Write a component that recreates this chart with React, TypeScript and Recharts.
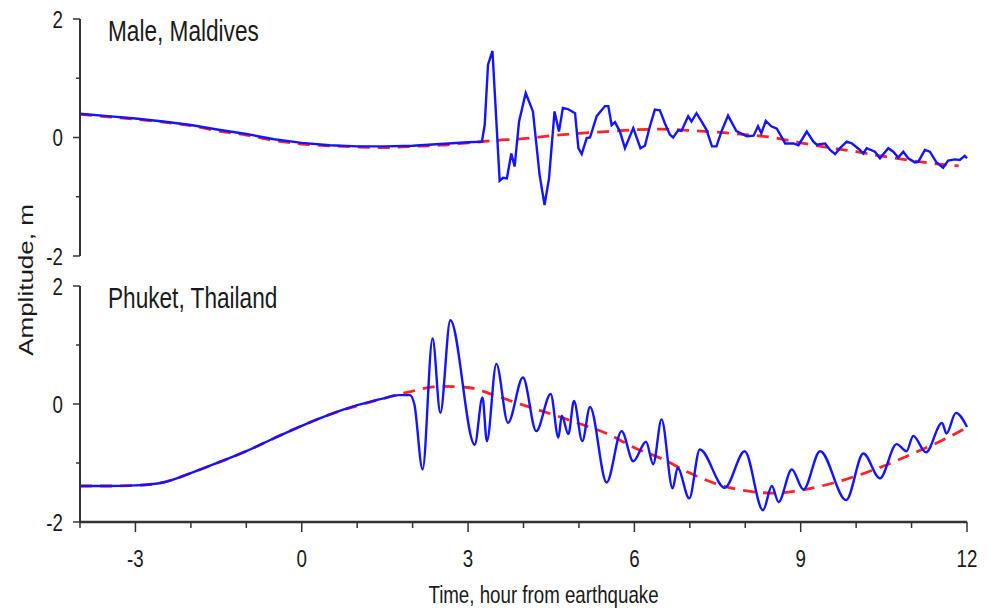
import React from 'react';
import { LineChart, Line, XAxis, YAxis, Label } from 'recharts';

const colors = {
  observed: '#1414ff',
  trend: '#ff2424',
  axis: '#333333',
  text: '#1a1a1a',
};

const FONT = '"Liberation Sans", Arial, Helvetica, sans-serif';
// the source figure is squeezed horizontally, so every text is narrowed
const SQUEEZE = 0.78;

type Pt = { t: number; v: number };
const pts = (rows: number[][]): Pt[] => rows.map(([t, v]) => ({ t, v }));

const xTicks = [-4, -3, -2, -1, 0, 1, 2, 3, 4, 5, 6, 7, 8, 9, 10, 11, 12];
const xLabelled = [-3, 0, 3, 6, 9, 12];
const yTicks = [-2, -1, 0, 1, 2];

// Male, Maldives
const maleTrend = pts([
  [-4, 0.39], [-3.5, 0.35], [-3, 0.31], [-2.5, 0.26], [-2, 0.2], [-1.5, 0.11], [-1, 0.04],
  [-0.5, -0.05], [0, -0.11], [0.5, -0.14], [1, -0.16], [1.5, -0.17], [2, -0.15], [2.5, -0.13],
  [3, -0.09], [3.5, -0.05], [4, -0.02], [4.5, 0.03], [5, 0.07], [5.5, 0.1], [6, 0.13],
  [6.5, 0.14], [7, 0.12], [7.5, 0.09], [8, 0.05], [8.5, 0.0], [9, -0.09], [9.5, -0.17],
  [10, -0.24], [10.5, -0.32], [11, -0.39], [11.5, -0.45], [11.85, -0.48],
]);

const maleObserved = pts([
  [-4, 0.4], [-3.5, 0.36], [-3, 0.32], [-2.5, 0.27], [-2, 0.21], [-1.5, 0.13], [-1, 0.06],
  [-0.5, -0.03], [0, -0.09], [0.5, -0.13], [1, -0.15], [1.5, -0.15], [2, -0.14], [2.5, -0.11],
  [3, -0.08], [3.25, -0.07], [3.3, 0.21], [3.36, 1.23], [3.44, 1.46], [3.57, -0.73], [3.63, -0.68],
  [3.7, -0.69], [3.78, -0.27], [3.84, -0.49], [3.92, 0.27], [4.04, 0.75], [4.17, 0.44],
  [4.29, -0.63], [4.38, -1.14], [4.46, -0.69], [4.56, 0.44], [4.64, 0.1], [4.71, 0.5],
  [4.8, 0.48], [4.93, 0.41], [4.99, -0.18], [5.05, -0.28], [5.14, -0.01], [5.2, 0.0],
  [5.32, 0.36], [5.47, 0.53], [5.53, 0.53], [5.59, 0.21], [5.65, 0.26], [5.74, 0.1],
  [5.83, -0.18], [5.98, 0.16], [6.11, -0.18], [6.19, -0.14], [6.28, 0.19], [6.37, 0.47],
  [6.46, 0.46], [6.55, 0.24], [6.64, 0.05], [6.7, 0.0], [6.79, 0.12], [6.85, 0.11],
  [6.97, 0.36], [7.03, 0.27], [7.12, 0.41], [7.22, 0.26], [7.3, 0.13], [7.4, -0.15],
  [7.48, -0.15], [7.57, 0.1], [7.69, 0.37], [7.84, 0.11], [8.03, 0.02], [8.15, 0.03],
  [8.23, 0.19], [8.29, 0.07], [8.37, 0.28], [8.47, 0.19], [8.57, 0.15], [8.72, -0.1],
  [8.87, -0.1], [8.96, -0.13], [9.11, 0.1], [9.23, -0.07], [9.29, -0.12], [9.44, -0.1],
  [9.53, -0.21], [9.62, -0.28], [9.71, -0.18], [9.83, -0.07], [9.92, -0.1], [10.07, -0.21],
  [10.13, -0.27], [10.19, -0.18], [10.34, -0.24], [10.43, -0.35], [10.58, -0.18],
  [10.67, -0.24], [10.76, -0.34], [10.85, -0.24], [10.94, -0.35], [11.06, -0.42],
  [11.12, -0.41], [11.24, -0.21], [11.33, -0.24], [11.45, -0.42], [11.57, -0.51],
  [11.66, -0.39], [11.78, -0.37], [11.87, -0.38], [11.96, -0.31], [12.0, -0.35],
]);

// Phuket, Thailand
const phuketTrend = pts([
  [-4, -1.39], [-3.5, -1.39], [-3, -1.38], [-2.5, -1.33], [-2, -1.17], [-1.5, -0.99],
  [-1, -0.8], [-0.5, -0.58], [0, -0.37], [0.5, -0.18], [1, -0.03], [1.5, 0.1], [2, 0.22],
  [2.5, 0.3], [3, 0.28], [3.5, 0.14], [4, -0.02], [4.5, -0.17], [5, -0.33], [5.5, -0.5],
  [6, -0.74], [6.5, -0.93], [7, -1.17], [7.5, -1.36], [8, -1.47], [8.5, -1.51], [9, -1.46],
  [9.5, -1.36], [10, -1.22], [10.5, -1.05], [11, -0.85], [11.5, -0.64], [12, -0.4],
]);

const phuketObserved = pts([
  [-4, -1.39], [-3.5, -1.39], [-3, -1.38], [-2.5, -1.33], [-2, -1.17], [-1.5, -0.99],
  [-1, -0.8], [-0.5, -0.58], [0, -0.37], [0.5, -0.18], [1, -0.02], [1.5, 0.1], [1.75, 0.15],
  [1.95, 0.15], [2.03, 0.0], [2.18, -1.11], [2.36, 1.11], [2.5, -0.15], [2.68, 1.42],
  [3.12, -0.69], [3.26, 0.11], [3.34, -0.63], [3.51, 0.68], [3.72, -0.32], [3.99, 0.45],
  [4.23, -0.46], [4.49, 0.17], [4.63, -0.57], [4.69, -0.2], [4.81, -0.51], [4.91, 0.05],
  [5.06, -0.63], [5.2, -0.05], [5.5, -1.33], [5.77, -0.46], [5.98, -0.97], [6.21, -0.64],
  [6.34, -1.02], [6.49, -0.26], [6.69, -1.43], [6.78, -1.08], [6.99, -1.6], [7.18, -0.77],
  [7.63, -1.42], [7.99, -0.8], [8.32, -1.8], [8.48, -1.39], [8.6, -1.66], [8.84, -1.11],
  [9.05, -1.45], [9.35, -0.8], [9.82, -1.63], [10.13, -0.84], [10.43, -1.26], [10.73, -0.68],
  [10.91, -0.8], [11.03, -0.54], [11.26, -0.82], [11.55, -0.32], [11.63, -0.5],
  [11.8, -0.15], [12.0, -0.39],
]);

const squeezedText = (x: number, y: number) => `translate(${x},${y}) scale(${SQUEEZE},1)`;

const YTick = (props: any) => {
  const { x, y, payload } = props;
  const v = payload.value as number;
  const major = v % 2 === 0;
  return (
    <g>
      <line x1={x} x2={x - (major ? 7 : 4)} y1={y} y2={y} stroke={colors.axis} strokeWidth={1.5} />
      {major && (
        <text
          transform={squeezedText(x - 17, y)}
          textAnchor="end"
          dy="0.36em"
          fontFamily={FONT}
          fontSize={24}
          fill={colors.text}
        >
          {v}
        </text>
      )}
    </g>
  );
};

const XTick = (props: any) => {
  const { x, y, payload } = props;
  const v = payload.value as number;
  const major = xLabelled.includes(v);
  return (
    <g>
      <line x1={x} x2={x} y1={y} y2={y + (major ? 10 : 6)} stroke={colors.axis} strokeWidth={1.5} />
      {major && (
        <text
          transform={squeezedText(x, y + 45)}
          textAnchor="middle"
          fontFamily={FONT}
          fontSize={24}
          fill={colors.text}
        >
          {v}
        </text>
      )}
    </g>
  );
};

const XLabel = (props: any) => {
  const { viewBox } = props;
  const cx = viewBox.x + viewBox.width / 2 + 20;
  return (
    <text
      transform={squeezedText(cx, viewBox.y + 81)}
      textAnchor="middle"
      fontFamily={FONT}
      fontSize={24}
      fill={colors.text}
    >
      Time, hour from earthquake
    </text>
  );
};

const Title = ({ y, children }: { y: number; children: string }) => (
  <text transform={squeezedText(108, y)} fontFamily={FONT} fontSize={29} fill={colors.text}>
    {children}
  </text>
);

const yAxisProps = {
  type: 'number' as const,
  domain: [-2, 2],
  ticks: yTicks,
  interval: 0 as const,
  width: 80,
  tickSize: 0,
  tickMargin: 0,
  tickLine: false,
  tick: <YTick />,
  axisLine: { stroke: colors.axis, strokeWidth: 2 },
};

const renderSeries = (trend: Pt[], observed: Pt[], curve: 'linear' | 'monotone') => [
  <Line
    key="trend"
    data={trend}
    dataKey="v"
    type="monotone"
    stroke={colors.trend}
    strokeWidth={2.8}
    strokeDasharray="12 8"
    dot={false}
    activeDot={false}
    isAnimationActive={false}
  />,
  <Line
    key="observed"
    data={observed}
    dataKey="v"
    type={curve}
    stroke={colors.observed}
    strokeWidth={2.4}
    dot={false}
    activeDot={false}
    isAnimationActive={false}
  />,
];

export default function App() {
  return (
    <div
      style={{
        position: 'absolute',
        left: 0,
        top: 0,
        width: 994,
        height: 612,
        background: '#ffffff',
      }}
    >
      <div style={{ position: 'absolute', left: 0, top: 0 }}>
        <LineChart width={994} height={270} margin={{ top: 19, right: 27, bottom: 14, left: 0 }}>
          <XAxis dataKey="t" type="number" domain={[-4, 12]} allowDuplicatedCategory={false} hide />
          <YAxis {...yAxisProps} />
          {renderSeries(maleTrend, maleObserved, 'linear')}
          <Title y={41}>Male, Maldives</Title>
        </LineChart>
      </div>
      <div style={{ position: 'absolute', left: 0, top: 270 }}>
        <LineChart width={994} height={342} margin={{ top: 16, right: 27, bottom: 0, left: 0 }}>
          <XAxis
            dataKey="t"
            type="number"
            domain={[-4, 12]}
            ticks={xTicks}
            interval={0}
            height={90}
            tickSize={0}
            tickMargin={0}
            tickLine={false}
            tick={<XTick />}
            axisLine={{ stroke: colors.axis, strokeWidth: 2.5 }}
            allowDuplicatedCategory={false}
          >
            <Label content={<XLabel />} />
          </XAxis>
          <YAxis {...yAxisProps} />
          {renderSeries(phuketTrend, phuketObserved, 'monotone')}
          <Title y={38}>Phuket, Thailand</Title>
        </LineChart>
      </div>
      <svg
        width={60}
        height={612}
        style={{ position: 'absolute', left: 0, top: 0, pointerEvents: 'none' }}
      >
        <text
          transform={`translate(26,280) scale(${SQUEEZE},1) rotate(-90)`}
          textAnchor="middle"
          dy="0.36em"
          fontFamily={FONT}
          fontSize={26}
          fill={colors.text}
        >
          Amplitude, m
        </text>
      </svg>
    </div>
  );
}
